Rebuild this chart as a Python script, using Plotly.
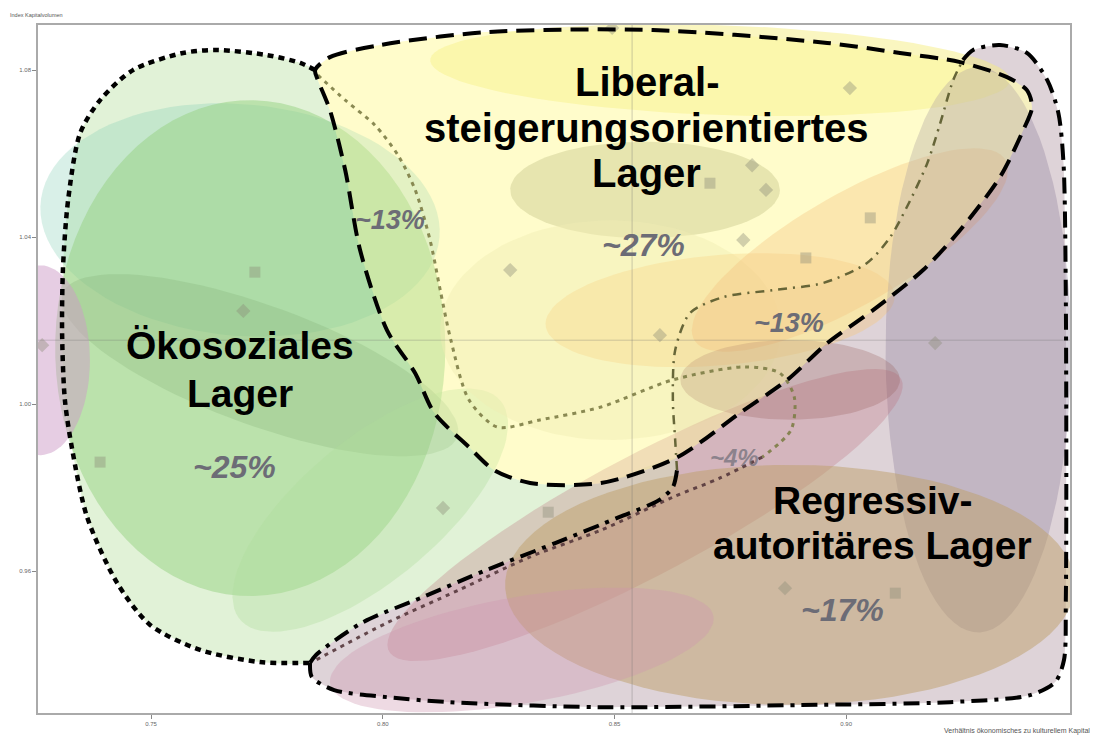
import numpy as np
import plotly.graph_objects as go

# ---------------- axes / ticks ----------------
X_RANGE = [0.7256, 0.9483]
Y_RANGE = [0.9260, 1.0908]
X_TICKS = [0.75, 0.80, 0.85, 0.90]
X_TICK_TEXT = ["0.75", "0.80", "0.85", "0.90"]
Y_TICKS = [0.96, 1.00, 1.04, 1.08]
Y_TICK_TEXT = ["0.96", "1.00", "1.04", "1.08"]
X_TITLE = "Verhältnis ökonomisches zu kulturellem Kapital"
Y_TITLE = "Index Kapitalvolumen"

# mean reference lines
MEAN_X = 0.8538
MEAN_Y = 1.0153

# ---------------- faint scatter points ----------------
SQ_X = [0.8706, 0.7724, 0.7390, 0.8357, 0.8913, 0.9052, 0.9106]
SQ_Y = [1.0529, 1.0316, 0.9861, 0.9741, 1.0350, 1.0446, 0.9547]
DI_X = [0.8495, 0.9008, 0.8797, 0.8827, 0.7699, 0.8275, 0.7265, 0.8598, 0.9192, 0.8130, 0.8868, 0.8778]
DI_Y = [1.0901, 1.0757, 1.0572, 1.0513, 1.0223, 1.0321, 1.0141, 1.0165, 1.0146, 0.9751, 0.9559, 1.0393]

# ---------------- camp boundaries (data units) ----------------
OEKO_X = [0.7854, 0.7822, 0.7750, 0.7642, 0.7569, 0.7461, 0.7390, 0.7347, 0.7321, 0.7310,
          0.7308, 0.7314, 0.7330, 0.7362, 0.7427, 0.7498, 0.7606, 0.7735, 0.7843]
OEKO_Y = [1.0800, 1.0817, 1.0836, 1.0848, 1.0841, 1.0800, 1.0728, 1.0649, 1.0489, 1.0328,
          1.0170, 1.0010, 0.9890, 0.9729, 0.9571, 0.9471, 0.9411, 0.9382, 0.9380]

LIB_X = [0.7854, 0.7886, 0.7994, 0.8225, 0.8583, 0.8959, 0.9116, 0.9246, 0.9347, 0.9390,
         0.9401, 0.9382, 0.9332, 0.9246, 0.9166, 0.9058, 0.8959, 0.8873, 0.8771, 0.8633,
         0.8471, 0.8318, 0.8240, 0.8186, 0.8111, 0.8070, 0.8009, 0.7951, 0.7919, 0.7886,
         0.7860, 0.7854]
LIB_Y = [1.0800, 1.0831, 1.0860, 1.0891, 1.0896, 1.0865, 1.0841, 1.0819, 1.0783, 1.0752,
         1.0711, 1.0656, 1.0544, 1.0417, 1.0321, 1.0225, 1.0146, 1.0058, 0.9979, 0.9871,
         0.9811, 0.9811, 0.9842, 0.9897, 0.9979, 1.0074, 1.0177, 1.0369, 1.0560, 1.0704,
         1.0776, 1.0800]
LIB_TAIL = 19  # index where the liberal border meets the regressive border

REG_A_X = [0.7843, 0.7856, 0.7955, 0.8087, 0.8225, 0.8372, 0.8510, 0.8596, 0.8626, 0.8635]
REG_A_Y = [0.9380, 0.9399, 0.9476, 0.9538, 0.9603, 0.9667, 0.9729, 0.9770, 0.9801, 0.9842]
REG_B_X = [0.8635, 0.8631, 0.8626, 0.8631, 0.8663, 0.8734, 0.8842, 0.8950, 0.9045, 0.9095,
           0.9131, 0.9175, 0.9203, 0.9231, 0.9252]
REG_B_Y = [0.9842, 0.9914, 1.0010, 1.0129, 1.0218, 1.0256, 1.0273, 1.0290, 1.0338, 1.0400,
           1.0472, 1.0577, 1.0673, 1.0776, 1.0824]
REG_C_X = [0.9252, 0.9274, 0.9332, 0.9390, 0.9434, 0.9458, 0.9469, 0.9474, 0.9474, 0.9470,
           0.9451, 0.9397, 0.9224, 0.8901, 0.8469, 0.8145, 0.8009, 0.7895, 0.7847, 0.7843]
REG_C_Y = [1.0824, 1.0848, 1.0860, 1.0841, 1.0776, 1.0697, 1.0577, 1.0249, 0.9531, 0.9387,
           0.9334, 0.9303, 0.9286, 0.9279, 0.9274, 0.9286, 0.9298, 0.9315, 0.9346, 0.9380]

# inner overlap borders
OLIVE_X = [0.7860, 0.7919, 0.7983, 0.8033, 0.8070, 0.8102, 0.8124, 0.8147, 0.8186, 0.8247,
           0.8339, 0.8471, 0.8626, 0.8780, 0.8857, 0.8888, 0.8881, 0.8819]
OLIVE_Y = [1.0788, 1.0728, 1.0668, 1.0596, 1.0513, 1.0393, 1.0273, 1.0153, 1.0010, 0.9945,
           0.9962, 0.9993, 1.0058, 1.0089, 1.0074, 1.0017, 0.9938, 0.9873]
DARK_X = [0.8819, 0.8728, 0.8626, 0.8471, 0.8318, 0.8165, 0.8009, 0.7856]
DARK_Y = [0.9873, 0.9823, 0.9777, 0.9698, 0.9634, 0.9555, 0.9476, 0.9387]

# ---------------- background cluster ellipses ----------------
# cx, cy, semi-axis a, semi-axis b (x-data units), angle (deg), colour
ELL_NAME = ["teal", "green", "green_band", "green_low", "pink_left", "yellow_top", "olive",
            "beige", "orange", "peach", "mauve", "red_band", "maroon", "tan", "pink_bottom"]
ELL_CX = [0.7692, 0.7714, 0.7735, 0.7973, 0.7260, 0.8728, 0.8566, 0.8491, 0.8728, 0.9008,
          0.9285, 0.8566, 0.8879, 0.8879, 0.8300]
ELL_CY = [1.0441, 1.0134, 1.0093, 0.9746, 1.0105, 1.0800, 1.0513, 1.0177, 1.0225, 1.0369,
          1.0130, 0.9734, 1.0058, 0.9567, 0.9411]
ELL_A = [0.0432, 0.0421, 0.0453, 0.0367, 0.0108, 0.0626, 0.0291, 0.0367, 0.0378, 0.0388,
         0.0200, 0.0626, 0.0237, 0.0615, 0.0420]
ELL_B = [0.0250, 0.0535, 0.0129, 0.0151, 0.0205, 0.0097, 0.0104, 0.0237, 0.0119, 0.0119,
         0.0610, 0.0129, 0.0086, 0.0259, 0.0115]
ELL_ANG = [-5, 0, -20, 40, 0, -2, 0, 0, 5, 30, 0, 28, 0, 0, 10]
ELL_COL = ["rgba(130,205,180,0.30)", "rgba(150,210,130,0.50)", "rgba(120,165,105,0.22)",
           "rgba(175,220,155,0.35)", "rgba(205,155,200,0.50)", "rgba(245,238,130,0.50)",
           "rgba(160,160,110,0.35)", "rgba(235,230,185,0.45)", "rgba(245,200,130,0.40)",
           "rgba(240,170,110,0.35)", "rgba(150,135,160,0.38)", "rgba(185,105,120,0.28)",
           "rgba(150,95,90,0.28)", "rgba(190,160,105,0.50)", "rgba(205,150,175,0.35)"]

# ---------------- labels ----------------
CAMP_LINES = ["Liberal-", "steigerungsorientiertes", "Lager",
              "Ökosoziales", "Lager",
              "Regressiv-", "autoritäres Lager"]
CAMP_X = [0.8570, 0.8570, 0.8570, 0.7692, 0.7692, 0.9056, 0.9056]
CAMP_Y = [1.0771, 1.0661, 1.0553, 1.0141, 1.0026, 0.9770, 0.9662]
CAMP_SIZE = [40, 40, 40, 39, 39, 39, 39]
PCT_TEXT = ["~27%", "~25%", "~17%", "~13%", "~13%", "~4%"]
PCT_X = [0.8562, 0.7681, 0.8993, 0.8016, 0.8877, 0.8758]
PCT_Y = [1.0381, 0.9849, 0.9507, 1.0441, 1.0194, 0.9873]
PCT_SIZE = [32, 32, 32, 27, 27, 24]
PCT_COL = ["rgb(108,108,118)"] * 5 + ["rgba(108,108,118,0.7)"]

# ---------------------------------------------------------------
W_PLOT, H_PLOT = 1032, 688
ASPECT = ((Y_RANGE[1] - Y_RANGE[0]) / H_PLOT) / ((X_RANGE[1] - X_RANGE[0]) / W_PLOT)
FONT = "Liberation Sans, Arial, sans-serif"


def ellipse(cx, cy, a, b, ang):
    t = np.linspace(0, 2 * np.pi, 90)
    th = np.radians(ang)
    u, v = a * np.cos(t), b * np.sin(t)
    px = u * np.cos(th) - v * np.sin(th)
    py = u * np.sin(th) + v * np.cos(th)
    return cx + px, cy + py * ASPECT


fig = go.Figure()

# camp fills
oeko_fx = OEKO_X + REG_A_X[1:] + LIB_X[LIB_TAIL:]
oeko_fy = OEKO_Y + REG_A_Y[1:] + LIB_Y[LIB_TAIL:]
fig.add_trace(go.Scatter(x=oeko_fx, y=oeko_fy, fill="toself", mode="lines",
                         line=dict(width=0, shape="spline", smoothing=0.6),
                         fillcolor="rgba(205,234,188,0.60)", hoverinfo="skip", showlegend=False))
reg_fx = REG_A_X + REG_B_X[1:] + REG_C_X[1:]
reg_fy = REG_A_Y + REG_B_Y[1:] + REG_C_Y[1:]
fig.add_trace(go.Scatter(x=reg_fx, y=reg_fy, fill="toself", mode="lines",
                         line=dict(width=0, shape="spline", smoothing=0.6),
                         fillcolor="rgba(190,168,178,0.50)", hoverinfo="skip", showlegend=False))
fig.add_trace(go.Scatter(x=LIB_X, y=LIB_Y, fill="toself", mode="lines",
                         line=dict(width=0, shape="spline", smoothing=0.6),
                         fillcolor="rgba(255,252,190,0.60)", hoverinfo="skip", showlegend=False))

# ellipses
for i in range(len(ELL_NAME)):
    ex, ey = ellipse(ELL_CX[i], ELL_CY[i], ELL_A[i], ELL_B[i], ELL_ANG[i])
    fig.add_trace(go.Scatter(x=ex, y=ey, fill="toself", mode="lines", line=dict(width=0),
                             fillcolor=ELL_COL[i], hoverinfo="skip", showlegend=False,
                             name=ELL_NAME[i]))

# light yellow veil of the liberal camp
fig.add_trace(go.Scatter(x=LIB_X, y=LIB_Y, fill="toself", mode="lines",
                         line=dict(width=0, shape="spline", smoothing=0.6),
                         fillcolor="rgba(255,252,170,0.28)", hoverinfo="skip", showlegend=False))

# mean lines
fig.add_trace(go.Scatter(x=[MEAN_X, MEAN_X], y=Y_RANGE, mode="lines",
                         line=dict(color="rgba(110,110,110,0.35)", width=1),
                         hoverinfo="skip", showlegend=False))
fig.add_trace(go.Scatter(x=X_RANGE, y=[MEAN_Y, MEAN_Y], mode="lines",
                         line=dict(color="rgba(110,110,110,0.30)", width=1),
                         hoverinfo="skip", showlegend=False))

# faint points
fig.add_trace(go.Scatter(x=SQ_X, y=SQ_Y, mode="markers",
                         marker=dict(symbol="square", size=11, color="rgba(140,140,120,0.40)"),
                         hoverinfo="skip", showlegend=False))
fig.add_trace(go.Scatter(x=DI_X, y=DI_Y, mode="markers",
                         marker=dict(symbol="diamond", size=11, color="rgba(140,140,120,0.40)"),
                         hoverinfo="skip", showlegend=False))

# inner borders
fig.add_trace(go.Scatter(x=OLIVE_X, y=OLIVE_Y, mode="lines",
                         line=dict(color="rgba(125,125,70,0.9)", width=3, dash="4px,5px",
                                   shape="spline", smoothing=0.8),
                         hoverinfo="skip", showlegend=False))
fig.add_trace(go.Scatter(x=DARK_X, y=DARK_Y, mode="lines",
                         line=dict(color="rgba(85,55,60,0.9)", width=3, dash="4px,5px",
                                   shape="spline", smoothing=0.8),
                         hoverinfo="skip", showlegend=False))
fig.add_trace(go.Scatter(x=REG_B_X, y=REG_B_Y, mode="lines",
                         line=dict(color="rgba(95,95,50,0.95)", width=2.5,
                                   dash="9px,6px,2px,6px", shape="spline", smoothing=0.8),
                         hoverinfo="skip", showlegend=False))

# main borders
fig.add_trace(go.Scatter(x=OEKO_X, y=OEKO_Y, mode="lines",
                         line=dict(color="black", width=4.5, dash="6px,5px",
                                   shape="spline", smoothing=0.8),
                         hoverinfo="skip", showlegend=False))
fig.add_trace(go.Scatter(x=LIB_X, y=LIB_Y, mode="lines",
                         line=dict(color="black", width=4, dash="18px,9px",
                                   shape="spline", smoothing=0.8),
                         hoverinfo="skip", showlegend=False))
fig.add_trace(go.Scatter(x=REG_A_X, y=REG_A_Y, mode="lines",
                         line=dict(color="black", width=4, dash="16px,7px,4px,7px",
                                   shape="spline", smoothing=0.8),
                         hoverinfo="skip", showlegend=False))
fig.add_trace(go.Scatter(x=REG_C_X, y=REG_C_Y, mode="lines",
                         line=dict(color="black", width=4, dash="16px,7px,4px,7px",
                                   shape="spline", smoothing=0.8),
                         hoverinfo="skip", showlegend=False))

# labels
for t, x, y, s in zip(CAMP_LINES, CAMP_X, CAMP_Y, CAMP_SIZE):
    fig.add_annotation(x=x, y=y, text="<b>" + t + "</b>", showarrow=False,
                       font=dict(family=FONT, size=s, color="black"),
                       xanchor="center", yanchor="middle")
for t, x, y, s, c in zip(PCT_TEXT, PCT_X, PCT_Y, PCT_SIZE, PCT_COL):
    fig.add_annotation(x=x, y=y, text="<b><i>" + t + "</i></b>", showarrow=False,
                       font=dict(family=FONT, size=s, color=c),
                       xanchor="center", yanchor="middle")

# axis titles
fig.add_annotation(xref="paper", yref="paper", x=-0.029, y=1.0145, text=Y_TITLE,
                   showarrow=False, xanchor="left", yanchor="middle",
                   font=dict(family=FONT, size=5.5, color="#555"))
fig.add_annotation(xref="paper", yref="paper", x=1.021, y=-0.026, text=X_TITLE,
                   showarrow=False, xanchor="right", yanchor="middle",
                   font=dict(family=FONT, size=7, color="#555"))

fig.update_xaxes(range=X_RANGE, tickvals=X_TICKS, ticktext=X_TICK_TEXT, showgrid=False,
                 zeroline=False, showline=True, linecolor="#aaaaaa", linewidth=1.5, mirror=True,
                 ticks="outside", ticklen=4, tickcolor="#888", automargin=False,
                 tickfont=dict(size=6, color="#666", family=FONT))
fig.update_yaxes(range=Y_RANGE, tickvals=Y_TICKS, ticktext=Y_TICK_TEXT, showgrid=False,
                 zeroline=False, showline=True, linecolor="#aaaaaa", linewidth=1.5, mirror=True,
                 ticks="outside", ticklen=4, tickcolor="#888", automargin=False,
                 tickfont=dict(size=6, color="#666", family=FONT))
fig.update_layout(width=1095, height=738, margin=dict(l=38, r=25, t=25, b=25),
                  plot_bgcolor="white", paper_bgcolor="white", showlegend=False)

fig.write_html("out.html", config={"displayModeBar": False},
               post_script="document.body.style.margin='0';document.body.style.overflow='hidden';")
